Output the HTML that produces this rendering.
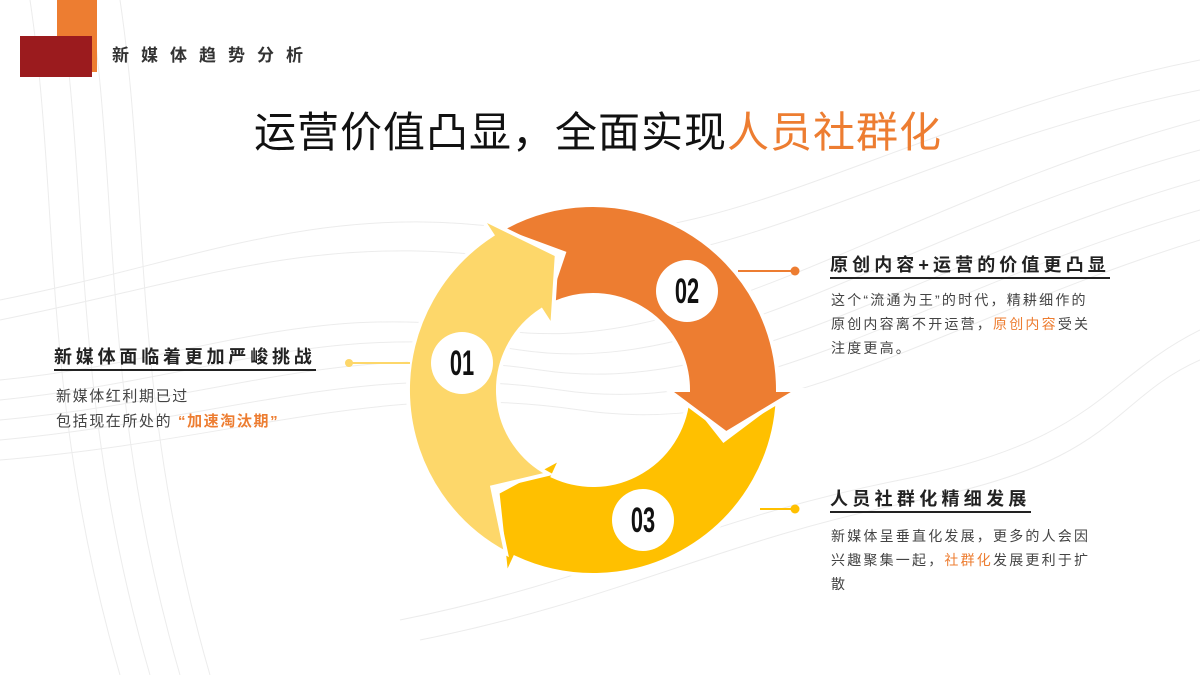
<!DOCTYPE html>
<html><head><meta charset="utf-8"><style>
html,body{margin:0;padding:0;}
body{width:1200px;height:675px;position:relative;overflow:hidden;background:#fff;font-family:"Liberation Sans","Noto Sans CJK SC",sans-serif;}
.a{position:absolute;white-space:nowrap;}
.h{font-weight:bold;font-size:18px;color:#222;border-bottom:2px solid #222;padding-bottom:1px;line-height:22px;}
.b{font-size:14px;color:#444;line-height:24px;letter-spacing:2.2px;}
.o{color:#ED7D31;font-weight:bold;}
</style></head><body>
<svg class="a" style="left:0;top:0" width="1200" height="675">
<g fill="none" stroke="#ececec" stroke-width="1">
<path d="M0,380 C200,360 300,300 500,330 S900,200 1200,120"/>
<path d="M0,400 C200,380 320,320 520,350 S900,230 1200,150"/>
<path d="M0,420 C220,400 340,340 540,370 S920,260 1200,180"/>
<path d="M0,440 C220,420 360,360 560,390 S920,290 1200,210"/>
<path d="M0,460 C240,440 380,380 580,410 S940,320 1200,240"/>
<path d="M0,300 C200,260 320,200 520,230 S900,120 1200,60"/>
<path d="M0,320 C200,280 320,230 520,260 S900,150 1200,90"/>
<path d="M400,620 C600,580 700,520 900,480 S1100,380 1200,330"/>
<path d="M420,640 C620,600 720,540 920,500 S1110,400 1200,360"/>
<path d="M30,0 C60,200 40,400 120,675"/>
<path d="M60,0 C90,200 70,400 150,675"/>
<path d="M90,0 C120,200 100,400 180,675"/>
<path d="M120,0 C150,200 130,400 210,675"/>
</g>
<path d="M777.7,399.7 A185 185 0 0 1 514.8,557.7 L506.4,575.8 L497.5,492.4 L561.3,458.0 L552.9,476.1 A95 95 0 0 0 687.9,395.0 L723.7,440.2 Z" fill="#FFC000" stroke="#fff" stroke-width="4"/>
<path d="M500.5,229.8 A185 185 0 0 1 778,390 L798,390 L726.2,433.3 L668,390 L688,390 A95 95 0 0 0 545.5,307.7 L563.9,253.1 Z" fill="#ED7D31" stroke="#fff" stroke-width="4"/>
<path d="M506.1,553.3 A185,185 0 0 1 492.2,234.8 L481.4,218.1 L556.8,254.8 L552.2,327.1 L541.3,310.3 A95,95 0 0 0 548.4,473.9 L492.3,487.3 Z" fill="#FDD76A" stroke="#fff" stroke-width="4"/>
<circle cx="462" cy="363" r="31" fill="#fff"/>
<circle cx="687" cy="291" r="31" fill="#fff"/>
<circle cx="643" cy="520" r="31" fill="#fff"/>
<g font-family="'Liberation Sans',sans-serif" font-weight="bold" font-size="28" text-anchor="middle" fill="#111">
<text transform="translate(462,375) scale(0.78,1.25)">01</text>
<text transform="translate(687,303) scale(0.78,1.25)">02</text>
<text transform="translate(643,532) scale(0.78,1.25)">03</text>
</g>
<line x1="349" y1="363" x2="410" y2="363" stroke="#FDD76A" stroke-width="2"/>
<circle cx="349" cy="363" r="4" fill="#FDD76A"/>
<line x1="738" y1="271" x2="795" y2="271" stroke="#ED7D31" stroke-width="2"/>
<circle cx="795" cy="271" r="4.5" fill="#ED7D31"/>
<line x1="760" y1="509" x2="795" y2="509" stroke="#FFC000" stroke-width="2"/>
<circle cx="795" cy="509" r="4.5" fill="#FFC000"/>
</svg>
<div class="a" style="left:57px;top:0;width:40px;height:72px;background:#ED7D31"></div>
<div class="a" style="left:20px;top:36px;width:72px;height:41px;background:#9B1B1E"></div>
<div class="a" style="left:112px;top:41px;font-size:17px;letter-spacing:12px;color:#333;font-weight:bold">新媒体趋势分析</div>
<div class="a" style="left:254px;top:107px;font-size:42px;color:#111;letter-spacing:1px;line-height:52px">运营价值凸显，全面实现<span style="color:#ED7D31">人员社群化</span></div>
<div class="a h" style="left:54px;top:346px;letter-spacing:3.8px">新媒体面临着更加严峻挑战</div>
<div class="a b" style="left:56px;top:384px;font-size:15px;line-height:25px;letter-spacing:1.6px">新媒体红利期已过<br>包括现在所处的 <span class="o">“加速淘汰期”</span></div>
<div class="a h" style="left:830px;top:254px;letter-spacing:4.1px">原创内容+运营的价值更凸显</div>
<div class="a b" style="left:831px;top:288px">这个“流通为王”的时代，精耕细作的<br>原创内容离不开运营，<span class="o" style="font-weight:normal">原创内容</span>受关<br>注度更高。</div>
<div class="a h" style="left:830px;top:488px;letter-spacing:4.3px">人员社群化精细发展</div>
<div class="a b" style="left:831px;top:524px">新媒体呈垂直化发展，更多的人会因<br>兴趣聚集一起，<span class="o" style="font-weight:normal">社群化</span>发展更利于扩<br>散</div>
</body></html>
